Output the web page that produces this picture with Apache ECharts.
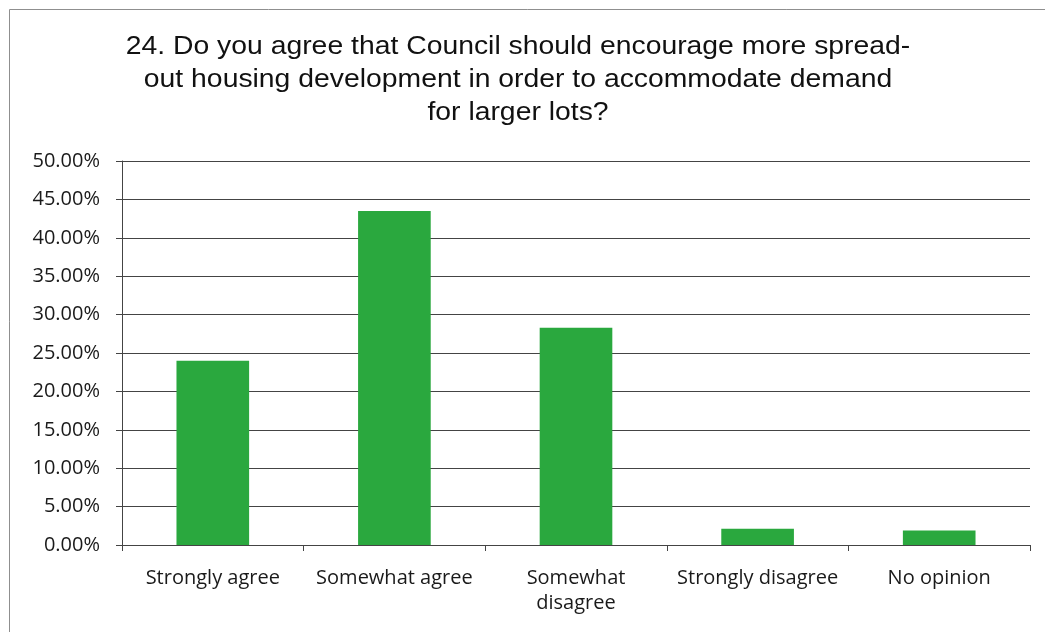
<!DOCTYPE html>
<html>
<head>
<meta charset="utf-8">
<script src="https://cdn.jsdelivr.net/npm/echarts@6/dist/echarts.min.js"></script>
<style>
  html, body { margin: 0; padding: 0; background: #fff; }
  #chart { width: 1045px; height: 632px; }
</style>
</head>
<body>
<div id="chart"></div>
<script>
// Survey question 24 responses (share of respondents, %)
const titleLines = [
  '24. Do you agree that Council should encourage more spread-',
  'out housing development in order to accommodate demand',
  'for larger lots?'
];
const categories = ['Strongly agree', 'Somewhat agree', 'Somewhat\ndisagree', 'Strongly disagree', 'No opinion'];
const values = [24.0, 43.5, 28.3, 2.1, 1.9];
const yMin = 0;
const yMax = 50;
const yStep = 5;

const labelFont = '"Open Sans", Lato, "DejaVu Sans", sans-serif';
const chart = echarts.init(document.getElementById('chart'), null, { renderer: 'canvas' });

chart.setOption({
  backgroundColor: '#ffffff',
  animation: false,
  graphic: [
    {
      type: 'rect',
      shape: { x: 9.5, y: 9.5, width: 1060, height: 660 },
      style: { fill: 'none', stroke: '#8f8f8f', lineWidth: 1 },
      silent: true,
      z: 0
    },
    {
      // title, set slightly wide
      type: 'text',
      x: 518,
      y: 30,
      scaleX: 1.09,
      silent: true,
      style: {
        text: titleLines.join('\n'),
        font: '26px "Liberation Sans", Arial, sans-serif',
        lineHeight: 33,
        fill: '#111',
        align: 'center',
        verticalAlign: 'top'
      }
    }
  ],
  grid: { left: 122, right: 15, top: 161, bottom: 87 },
  xAxis: {
    type: 'category',
    data: categories,
    axisLine: { show: true, lineStyle: { color: '#444', width: 1 } },
    axisTick: { show: true, alignWithLabel: false, length: 6, lineStyle: { color: '#444' } },
    axisLabel: {
      interval: 0,
      margin: 21,
      fontFamily: labelFont,
      fontSize: 20,
      lineHeight: 25,
      color: '#1a1a1a'
    }
  },
  yAxis: {
    type: 'value',
    min: yMin,
    max: yMax,
    interval: yStep,
    axisLine: { show: true, lineStyle: { color: '#444', width: 1 } },
    axisTick: { show: true, length: 6, lineStyle: { color: '#444' } },
    splitLine: { show: true, lineStyle: { color: '#444', width: 1 } },
    axisLabel: {
      margin: 22,
      fontFamily: labelFont,
      fontSize: 20,
      color: '#1a1a1a',
      formatter: v => v.toFixed(2) + '%'
    }
  },
  series: [{
    type: 'bar',
    data: values,
    barWidth: '40%',
    itemStyle: { color: '#2aa83e' }
  }]
});
</script>
</body>
</html>
